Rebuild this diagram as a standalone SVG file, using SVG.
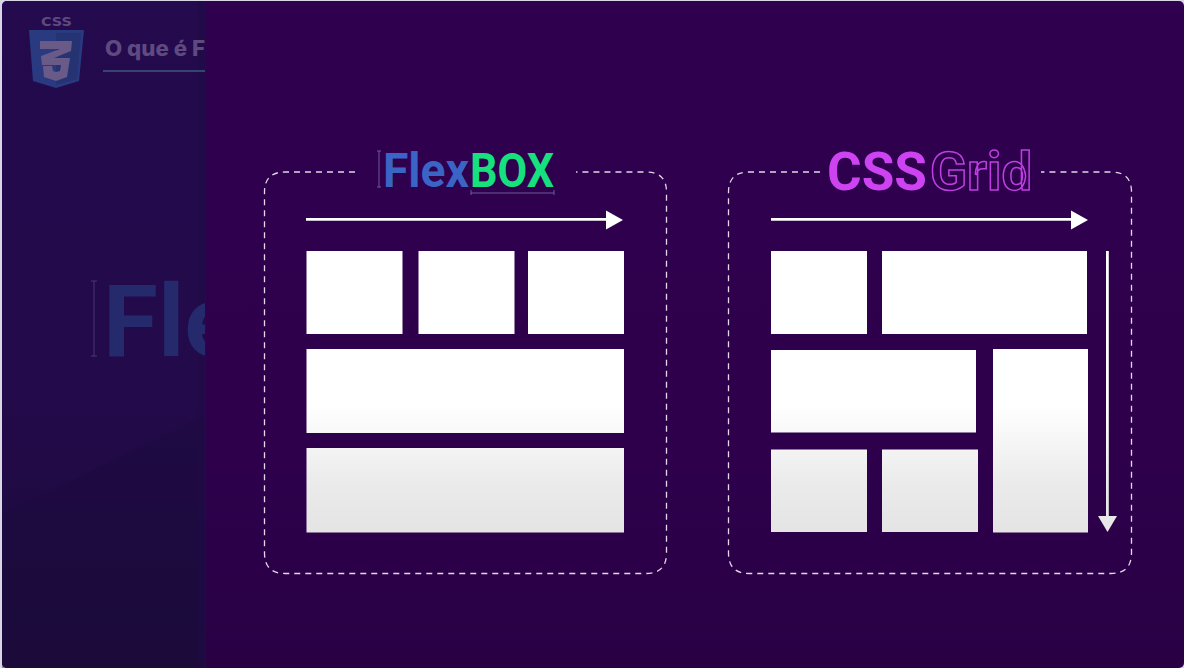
<svg xmlns="http://www.w3.org/2000/svg" width="1184" height="668" viewBox="0 0 1184 668">
<style>
.box{fill:url(#fade)}
.frame{fill:none;stroke:#e2d8e8;stroke-width:1.3;stroke-dasharray:6 5}
.arrow{fill:none;stroke:#fff;stroke-width:2.8}
.head{fill:#fff}
.title{font-family:Roboto,"Liberation Sans",sans-serif;font-weight:700}
.dim{fill:none;stroke:#6c5a96;stroke-width:1}
</style>
<defs>
<linearGradient id="fade" gradientUnits="userSpaceOnUse" x1="0" y1="405" x2="0" y2="533">
<stop offset="0" stop-color="#fff"/><stop offset="0.6" stop-color="#ebebeb"/><stop offset="1" stop-color="#e4e4e4"/>
</linearGradient>
<linearGradient id="bg" x1="0" y1="0" x2="0" y2="1">
<stop offset="0" stop-color="#2f004e"/><stop offset="0.7" stop-color="#2e004c"/><stop offset="1" stop-color="#290044"/>
</linearGradient>
<linearGradient id="side" x1="0" y1="0" x2="0" y2="1">
<stop offset="0" stop-color="#240a4e"/><stop offset="0.6" stop-color="#230a4a"/><stop offset="1" stop-color="#1b0a39"/>
</linearGradient>
<clipPath id="leftClip"><rect x="0" y="0" width="206" height="668"/></clipPath>
</defs>

<rect id="page-edge" width="1184" height="668" fill="#d9d6e6"/>
<rect id="background" x="2" y="1" width="1182" height="667" rx="5" fill="url(#bg)"/>

<g id="side-panel" clip-path="url(#leftClip)">
<rect x="2" y="1" width="204" height="667" rx="5" fill="url(#side)"/>
<polygon points="2,515 206,415 206,668 2,668" fill="#1b0a3c" opacity="0.4"/>
<rect x="198" y="1" width="8" height="667" fill="#1f0a46" opacity="0.6"/>
<g id="css-logo">
<text x="41" y="26" textLength="31" lengthAdjust="spacingAndGlyphs" font-family="'DejaVu Sans',sans-serif" font-weight="700" font-size="12" fill="#5f4a80">CSS</text>
<polygon points="29,30 84,30 79,81 56,88 33,81" fill="#2a3a80"/>
<polygon points="56,33 81,33 77,79 56,85" fill="#253372"/>
<polygon points="40,41 72,41 71,51 54,58 70,58 67,77 56,81 44,77 43,66 52,66 53,71 56,72 60,71 61,65 42,65 41,56 60,49 40,49" fill="#6a5a88"/>
</g>
<text id="heading" x="105" y="56" textLength="100" lengthAdjust="spacingAndGlyphs" font-family="Inter,Roboto,sans-serif" font-size="21" font-weight="800" fill="#5e4a80">O que é F</text>
<line x1="103" y1="71" x2="206" y2="71" stroke="#3d5a7c" stroke-width="1.6"/>
<text id="ghost-title" class="title" x="103" y="356" font-size="100" font-weight="600" fill="#252a6c">Fle</text>
<path class="dim" d="M91 281H97M94 281V356M91 356H97" opacity="0.55"/>
</g>
<line x1="205.500" y1="1" x2="205.500" y2="668" stroke="#250a48" stroke-width="1"/>

<g id="flexbox-frame">
<path class="frame" d="M355 172H285Q264.500 172 264.500 192V553Q264.500 573.500 285 573.500H646Q666.500 573.500 666.500 553V192Q666.500 172 646 172H576"/>
<text class="title" x="383" y="187" font-size="49" textLength="86" lengthAdjust="spacingAndGlyphs" font-weight="600" fill="#3a64c6">Flex</text>
<text class="title" x="470" y="187" font-size="49" textLength="84" lengthAdjust="spacingAndGlyphs" font-weight="600" fill="#17e07f">BOX</text>
<path class="dim" d="M377 151H381M379 151V187M377 187H381"/>
<path class="dim" d="M471 190V195M471 193H554M554 190V195"/>
</g>
<g id="flexbox-row1-a"><rect class="box" x="306.500" y="251" width="96" height="83"/></g>
<g id="flexbox-row1-b"><rect class="box" x="418.500" y="251" width="96" height="83"/></g>
<g id="flexbox-row1-c"><rect class="box" x="528" y="251" width="96" height="83"/></g>
<g id="flexbox-row2"><rect class="box" x="306.500" y="349" width="317.500" height="84"/></g>
<g id="flexbox-row3"><rect class="box" x="306.500" y="448" width="317.500" height="84.500"/></g>

<g id="grid-frame">
<path class="frame" d="M820 172H749Q728.500 172 728.500 192V553Q728.500 573.500 749 573.500H1111Q1131.500 573.500 1131.500 553V192Q1131.500 172 1111 172H1041"/>
<text class="title" x="827" y="190" font-size="54" textLength="100" lengthAdjust="spacingAndGlyphs" font-weight="900" fill="#cd43f2">CSS</text>
<text class="title" x="930" y="190" font-size="53" textLength="102" lengthAdjust="spacingAndGlyphs" font-weight="800" fill="#2f004e" stroke="#bf3ee2" stroke-width="1.5">Grid</text>
</g>
<g id="grid-a"><rect class="box" x="771" y="251" width="96" height="83"/></g>
<g id="grid-b"><rect class="box" x="882" y="251" width="205" height="83"/></g>
<g id="grid-c"><rect class="box" x="771" y="350" width="205" height="82.500"/></g>
<g id="grid-d"><rect class="box" x="993" y="349" width="95" height="183.500"/></g>
<g id="grid-e"><rect class="box" x="771" y="449.500" width="96" height="82.500"/></g>
<g id="grid-f"><rect class="box" x="882" y="449.500" width="96" height="82.500"/></g>

<g id="connectors">
<line class="arrow" x1="306" y1="219.300" x2="608" y2="219.300"/>
<polygon class="head" points="606,210.500 623,220 606,229.500"/>
<line class="arrow" x1="771" y1="219.300" x2="1073" y2="219.300"/>
<polygon class="head" points="1071,210.500 1088,220 1071,229.500"/>
<rect x="1106" y="251" width="2.800" height="267" fill="url(#fade)"/>
<polygon points="1098,516 1117,516 1107.500,532" fill="#e8e8e8"/>
</g>
</svg>
